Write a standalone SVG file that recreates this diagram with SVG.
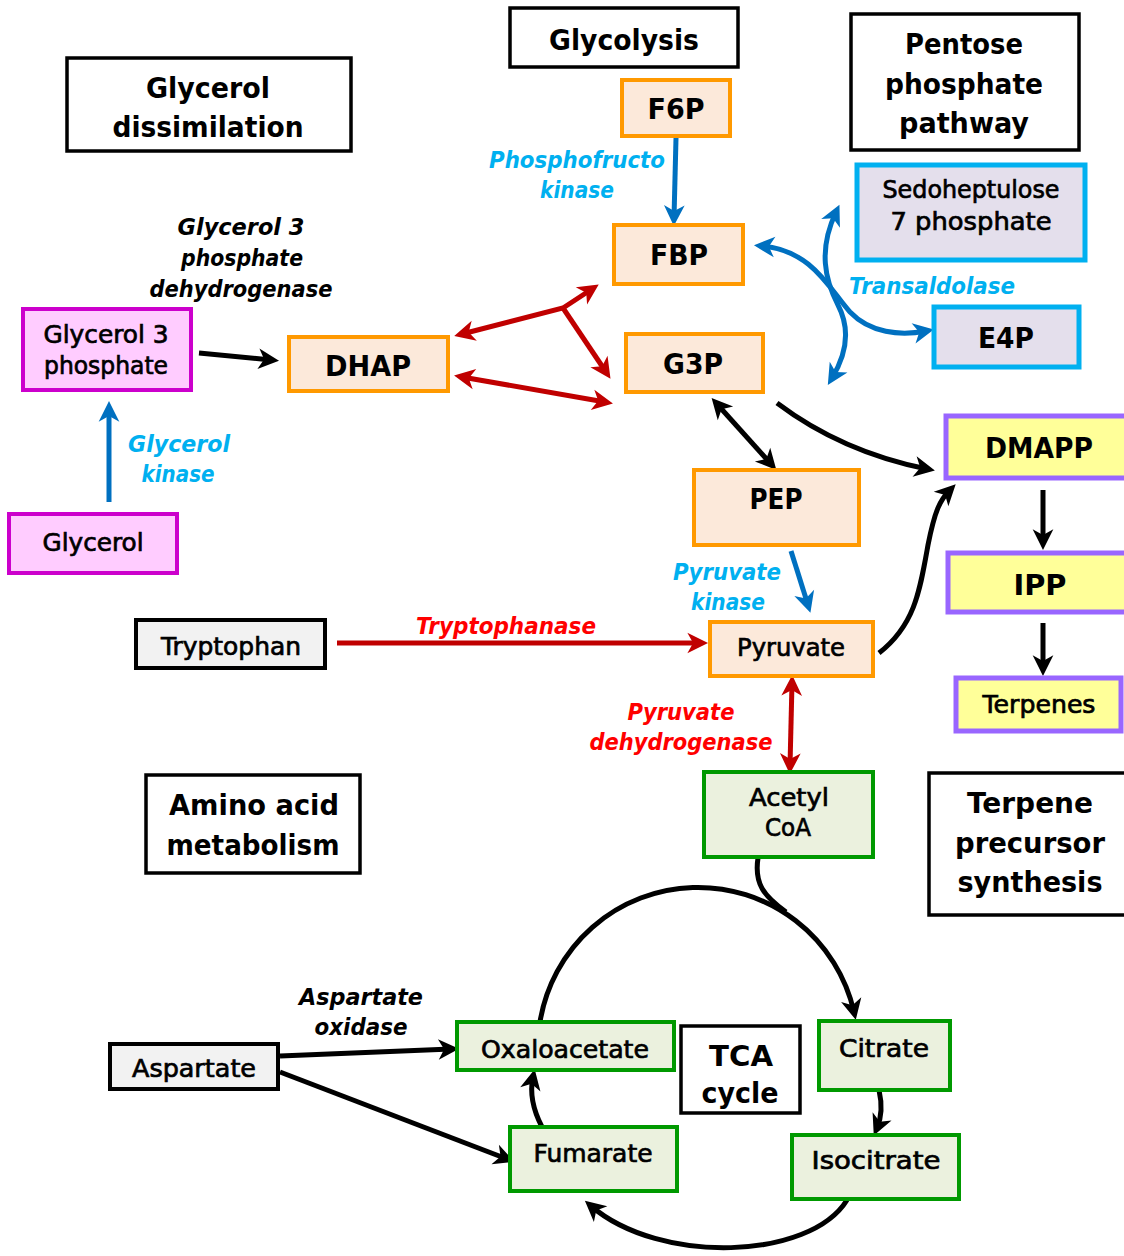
<svg xmlns="http://www.w3.org/2000/svg" width="1124" height="1256" viewBox="0 0 1124 1256">
  <style>
    text { font-family: "DejaVu Sans", "Liberation Sans", sans-serif; fill: #000; text-anchor: middle; }
    .ttl { font-size: 29px; font-weight: bold; }
    .big { font-size: 29px; font-weight: bold; }
    .lbl { font-size: 24px; stroke: #000; stroke-width: 0.7; }
    .enz { font-size: 23px; font-style: italic; font-weight: bold; }
    .cyan { fill: #00B0F0; }
    .red { fill: #FF0000; }
    .titlebox { fill: #FFFFFF; stroke: #000; stroke-width: 3.5; }
    .orange { fill: #FCE9DA; stroke: #FF9900; stroke-width: 4; }
    .magenta { fill: #FFCCFF; stroke: #CC00CC; stroke-width: 4; }
    .grey { fill: #F2F2F2; stroke: #000; stroke-width: 4; }
    .sky { fill: #E4DFEC; stroke: #00B0F0; stroke-width: 5; }
    .purple { fill: #FFFF99; stroke: #9966FF; stroke-width: 5; }
    .green { fill: #EBF1DE; stroke: #009900; stroke-width: 4; }
    .k { fill: none; stroke: #000; stroke-width: 5; marker-end: url(#ak); }
    .kk { fill: none; stroke: #000; stroke-width: 5; marker-start: url(#ak); marker-end: url(#ak); }
    .kn { fill: none; stroke: #000; stroke-width: 5; }
    .b { fill: none; stroke: #0070C0; stroke-width: 5; marker-end: url(#ab); }
    .bb { fill: none; stroke: #0070C0; stroke-width: 5; marker-start: url(#ab); marker-end: url(#ab); }
    .r { fill: none; stroke: #C00000; stroke-width: 5; marker-end: url(#ar); }
    .rr { fill: none; stroke: #C00000; stroke-width: 5; marker-start: url(#ar); marker-end: url(#ar); }
  </style>
  <defs>
    <marker id="ak" viewBox="0 0 20 20" refX="12" refY="10" markerWidth="23" markerHeight="23" markerUnits="userSpaceOnUse" orient="auto-start-reverse">
      <path d="M1,1 L19,10 L1,19 L6,10 z" fill="#000"/>
    </marker>
    <marker id="ab" viewBox="0 0 20 20" refX="12" refY="10" markerWidth="23" markerHeight="23" markerUnits="userSpaceOnUse" orient="auto-start-reverse">
      <path d="M1,1 L19,10 L1,19 L6,10 z" fill="#0070C0"/>
    </marker>
    <marker id="ar" viewBox="0 0 20 20" refX="12" refY="10" markerWidth="23" markerHeight="23" markerUnits="userSpaceOnUse" orient="auto-start-reverse">
      <path d="M1,1 L19,10 L1,19 L6,10 z" fill="#C00000"/>
    </marker>
  </defs>

  <rect width="1124" height="1256" fill="#FFFFFF"/>

  <!-- connectors -->
  <g id="connectors">
    <!-- glycolysis -->
    <line class="b" x1="676" y1="138" x2="674" y2="218"/>
    <path class="rr" d="M462,334 L563,308 L592,289"/>
    <line class="r" x1="563" y1="308" x2="606" y2="372"/>
    <line class="rr" x1="462" y1="377" x2="605" y2="402"/>
    <line class="kk" x1="717" y1="404" x2="771" y2="464"/>
    <line class="b" x1="791" y1="551" x2="808" y2="605"/>
    <!-- pentose phosphate -->
    <path class="bb" d="M836,212 C818,250 825,280 838,305 C851,330 846,355 832,378"/>
    <path class="bb" d="M762,246 C812,250 830,290 850,312 C870,333 900,336 926,331"/>
    <!-- glycerol -->
    <line class="b" x1="109" y1="502" x2="109" y2="409"/>
    <line class="k" x1="199" y1="353" x2="271" y2="360"/>
    <!-- terpene precursors -->
    <path class="k" d="M777,403 Q842,452 927,469"/>
    <path class="k" d="M879,653 C915,625 920,590 928,545 C935,510 940,500 950,490"/>
    <line class="k" x1="1043" y1="490" x2="1043" y2="542"/>
    <line class="k" x1="1043" y1="623" x2="1043" y2="668"/>
    <!-- amino acids -->
    <line class="r" x1="337" y1="643" x2="700" y2="643"/>
    <line class="rr" x1="792" y1="683" x2="790" y2="766"/>
    <line class="k" x1="280" y1="1056" x2="451" y2="1049"/>
    <line class="k" x1="280" y1="1072" x2="507" y2="1159"/>
    <!-- TCA cycle -->
    <path class="k" d="M540,1022 A160,160 0 0 1 854,1012"/>
    <path class="kn" d="M758,858 C754,884 764,896 786,912"/>
    <path class="k" d="M879,1090 Q884,1112 877,1128"/>
    <path class="k" d="M847,1200 C810,1260 660,1265 591,1206"/>
    <path class="k" d="M542,1127 Q528,1100 533,1077"/>
  </g>

  <!-- section titles -->
  <g id="title-glycolysis">
    <rect class="titlebox" x="510" y="8" width="228" height="59"/>
    <text class="ttl" x="624" y="50" textLength="150" lengthAdjust="spacingAndGlyphs">Glycolysis</text>
  </g>
  <g id="title-glycerol">
    <rect class="titlebox" x="67" y="58" width="284" height="93"/>
    <text class="ttl" x="208" y="98" textLength="124" lengthAdjust="spacingAndGlyphs">Glycerol</text>
    <text class="ttl" x="208" y="137" textLength="191" lengthAdjust="spacingAndGlyphs">dissimilation</text>
  </g>
  <g id="title-pentose">
    <rect class="titlebox" x="851" y="14" width="228" height="136"/>
    <text class="ttl" x="964" y="54" textLength="118" lengthAdjust="spacingAndGlyphs">Pentose</text>
    <text class="ttl" x="964" y="94" textLength="158" lengthAdjust="spacingAndGlyphs">phosphate</text>
    <text class="ttl" x="964" y="133" textLength="130" lengthAdjust="spacingAndGlyphs">pathway</text>
  </g>
  <g id="title-amino">
    <rect class="titlebox" x="146" y="775" width="214" height="98"/>
    <text class="ttl" x="254" y="815" textLength="170" lengthAdjust="spacingAndGlyphs">Amino acid</text>
    <text class="ttl" x="253" y="855" textLength="173" lengthAdjust="spacingAndGlyphs">metabolism</text>
  </g>
  <g id="title-terpene">
    <rect class="titlebox" x="929" y="773" width="200" height="142"/>
    <text class="ttl" x="1030" y="813" textLength="126" lengthAdjust="spacingAndGlyphs">Terpene</text>
    <text class="ttl" x="1030" y="853" textLength="150" lengthAdjust="spacingAndGlyphs">precursor</text>
    <text class="ttl" x="1030" y="892" textLength="145" lengthAdjust="spacingAndGlyphs">synthesis</text>
  </g>
  <g id="title-tca">
    <rect class="titlebox" x="681" y="1026" width="119" height="87"/>
    <text class="ttl" x="741" y="1066" textLength="64" lengthAdjust="spacingAndGlyphs">TCA</text>
    <text class="ttl" x="740" y="1103" textLength="77" lengthAdjust="spacingAndGlyphs">cycle</text>
  </g>

  <!-- glycolysis intermediates -->
  <g id="node-f6p">
    <rect class="orange" x="622" y="80" width="108" height="56"/>
    <text class="big" x="676" y="119" textLength="57" lengthAdjust="spacingAndGlyphs">F6P</text>
  </g>
  <g id="node-fbp">
    <rect class="orange" x="614" y="225" width="129" height="59"/>
    <text class="big" x="679" y="265" textLength="58" lengthAdjust="spacingAndGlyphs">FBP</text>
  </g>
  <g id="node-g3p">
    <rect class="orange" x="626" y="334" width="137" height="58"/>
    <text class="big" x="693" y="374" textLength="60" lengthAdjust="spacingAndGlyphs">G3P</text>
  </g>
  <g id="node-dhap">
    <rect class="orange" x="289" y="337" width="159" height="54"/>
    <text class="big" x="368" y="376" textLength="86" lengthAdjust="spacingAndGlyphs">DHAP</text>
  </g>
  <g id="node-pep">
    <rect class="orange" x="694" y="470" width="165" height="75"/>
    <text class="big" x="776" y="509" textLength="53" lengthAdjust="spacingAndGlyphs">PEP</text>
  </g>
  <g id="node-pyruvate">
    <rect class="orange" x="710" y="622" width="163" height="54"/>
    <text class="lbl" x="791" y="656" textLength="108" lengthAdjust="spacingAndGlyphs">Pyruvate</text>
  </g>

  <!-- pentose phosphate intermediates -->
  <g id="node-s7p">
    <rect class="sky" x="857" y="165" width="228" height="95"/>
    <text class="lbl" x="971" y="198" textLength="177" lengthAdjust="spacingAndGlyphs">Sedoheptulose</text>
    <text class="lbl" x="971" y="230" textLength="161" lengthAdjust="spacingAndGlyphs">7 phosphate</text>
  </g>
  <g id="node-e4p">
    <rect class="sky" x="934" y="307" width="145" height="60"/>
    <text class="big" x="1006" y="348" textLength="56" lengthAdjust="spacingAndGlyphs">E4P</text>
  </g>

  <!-- glycerol intermediates -->
  <g id="node-glycerol3p">
    <rect class="magenta" x="23" y="309" width="168" height="81"/>
    <text class="lbl" x="106" y="343" textLength="125" lengthAdjust="spacingAndGlyphs">Glycerol 3</text>
    <text class="lbl" x="106" y="374" textLength="124" lengthAdjust="spacingAndGlyphs">phosphate</text>
  </g>
  <g id="node-glycerol">
    <rect class="magenta" x="9" y="514" width="168" height="59"/>
    <text class="lbl" x="93" y="551" textLength="101" lengthAdjust="spacingAndGlyphs">Glycerol</text>
  </g>

  <!-- terpene precursors -->
  <g id="node-dmapp">
    <rect class="purple" x="946" y="416" width="186" height="62"/>
    <text class="big" x="1039" y="458" textLength="108" lengthAdjust="spacingAndGlyphs">DMAPP</text>
  </g>
  <g id="node-ipp">
    <rect class="purple" x="948" y="553" width="184" height="59"/>
    <text class="big" x="1040" y="595" textLength="53" lengthAdjust="spacingAndGlyphs">IPP</text>
  </g>
  <g id="node-terpenes">
    <rect class="purple" x="956" y="678" width="165" height="53"/>
    <text class="lbl" x="1039" y="713" textLength="113" lengthAdjust="spacingAndGlyphs">Terpenes</text>
  </g>

  <!-- amino acids -->
  <g id="node-tryptophan">
    <rect class="grey" x="136" y="620" width="189" height="48"/>
    <text class="lbl" x="231" y="655" textLength="140" lengthAdjust="spacingAndGlyphs">Tryptophan</text>
  </g>
  <g id="node-aspartate">
    <rect class="grey" x="110" y="1044" width="168" height="45"/>
    <text class="lbl" x="194" y="1077" textLength="124" lengthAdjust="spacingAndGlyphs">Aspartate</text>
  </g>

  <!-- TCA cycle intermediates -->
  <g id="node-acetylcoa">
    <rect class="green" x="704" y="772" width="169" height="85"/>
    <text class="lbl" x="789" y="806" textLength="80" lengthAdjust="spacingAndGlyphs">Acetyl</text>
    <text class="lbl" x="788" y="836" textLength="46" lengthAdjust="spacingAndGlyphs">CoA</text>
  </g>
  <g id="node-oxaloacetate">
    <rect class="green" x="457" y="1022" width="217" height="48"/>
    <text class="lbl" x="565" y="1058" textLength="168" lengthAdjust="spacingAndGlyphs">Oxaloacetate</text>
  </g>
  <g id="node-citrate">
    <rect class="green" x="819" y="1021" width="131" height="69"/>
    <text class="lbl" x="884" y="1057" textLength="90" lengthAdjust="spacingAndGlyphs">Citrate</text>
  </g>
  <g id="node-fumarate">
    <rect class="green" x="510" y="1127" width="167" height="64"/>
    <text class="lbl" x="593" y="1162" textLength="119" lengthAdjust="spacingAndGlyphs">Fumarate</text>
  </g>
  <g id="node-isocitrate">
    <rect class="green" x="792" y="1135" width="167" height="64"/>
    <text class="lbl" x="876" y="1169" textLength="129" lengthAdjust="spacingAndGlyphs">Isocitrate</text>
  </g>

  <!-- enzyme labels -->
  <g id="enzyme-labels">
    <text class="enz cyan" x="577" y="168" textLength="176" lengthAdjust="spacingAndGlyphs">Phosphofructo</text>
    <text class="enz cyan" x="577" y="198" textLength="74" lengthAdjust="spacingAndGlyphs">kinase</text>
    <text class="enz cyan" x="932" y="294" textLength="166" lengthAdjust="spacingAndGlyphs">Transaldolase</text>
    <text class="enz" x="241" y="235" textLength="127" lengthAdjust="spacingAndGlyphs">Glycerol 3</text>
    <text class="enz" x="242" y="266" textLength="122" lengthAdjust="spacingAndGlyphs">phosphate</text>
    <text class="enz" x="241" y="297" textLength="183" lengthAdjust="spacingAndGlyphs">dehydrogenase</text>
    <text class="enz cyan" x="179" y="452" textLength="102" lengthAdjust="spacingAndGlyphs">Glycerol</text>
    <text class="enz cyan" x="178" y="482" textLength="73" lengthAdjust="spacingAndGlyphs">kinase</text>
    <text class="enz cyan" x="727" y="580" textLength="108" lengthAdjust="spacingAndGlyphs">Pyruvate</text>
    <text class="enz cyan" x="728" y="610" textLength="74" lengthAdjust="spacingAndGlyphs">kinase</text>
    <text class="enz red" x="506" y="634" textLength="180" lengthAdjust="spacingAndGlyphs">Tryptophanase</text>
    <text class="enz red" x="681" y="720" textLength="107" lengthAdjust="spacingAndGlyphs">Pyruvate</text>
    <text class="enz red" x="681" y="750" textLength="183" lengthAdjust="spacingAndGlyphs">dehydrogenase</text>
    <text class="enz" x="361" y="1005" textLength="124" lengthAdjust="spacingAndGlyphs">Aspartate</text>
    <text class="enz" x="361" y="1035" textLength="93" lengthAdjust="spacingAndGlyphs">oxidase</text>
  </g>
</svg>
